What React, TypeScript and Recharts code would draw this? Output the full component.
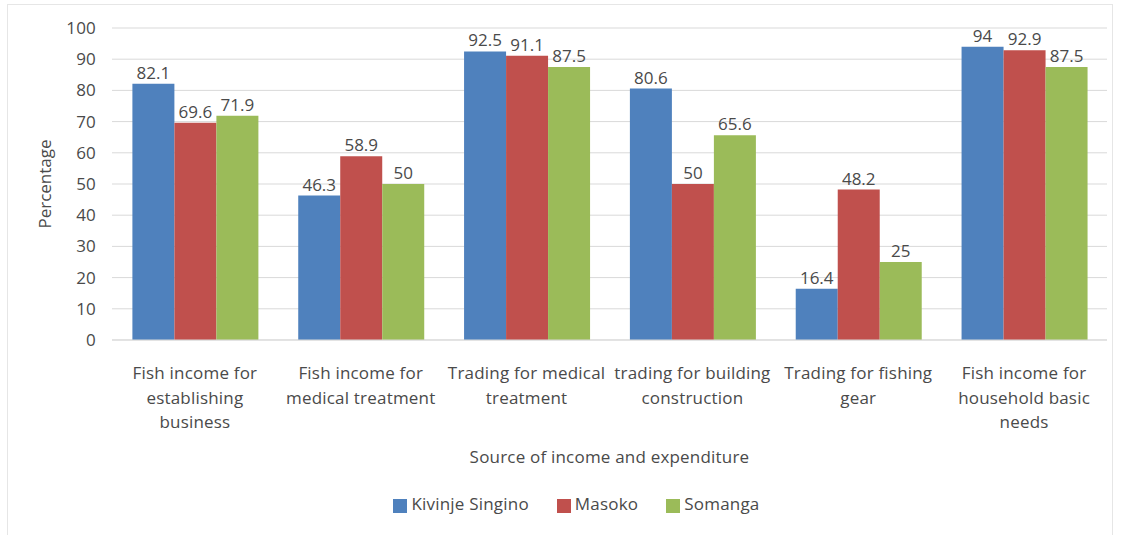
import { BarChart, Bar, XAxis, YAxis, CartesianGrid, Legend, LabelList, Label } from 'recharts';

const categories = [
  'Fish income for\nestablishing\nbusiness',
  'Fish income for\nmedical treatment',
  'Trading for medical\ntreatment',
  'trading for building\nconstruction',
  'Trading for fishing\ngear',
  'Fish income for\nhousehold basic\nneeds',
];
const kivinjeSingino = [82.1, 46.3, 92.5, 80.6, 16.4, 94];
const masoko = [69.6, 58.9, 91.1, 50, 48.2, 92.9];
const somanga = [71.9, 50, 87.5, 65.6, 25, 87.5];
const yTicks = [0, 10, 20, 30, 40, 50, 60, 70, 80, 90, 100];

const data = categories.map((name, i) => ({
  name,
  kivinje: kivinjeSingino[i],
  masoko: masoko[i],
  somanga: somanga[i],
}));

const FONT = '"Open Sans", sans-serif';
const TEXT = '#4a4a4a';
const FS = 17;
const LS = 0.2;

const CategoryTick = ({ x, y, payload }: any) => {
  const lines = String(payload.value).split('\n');
  return (
    <text x={x} y={y} textAnchor="middle" fill={TEXT} fontSize={FS} fontFamily={FONT} letterSpacing={LS}>
      {lines.map((line, i) => (
        <tspan key={i} x={x} dy={i === 0 ? 31 : 24.5}>
          {line}
        </tspan>
      ))}
    </text>
  );
};

export default function App() {
  return (
    <div style={{ position: 'absolute', left: 0, top: 0, width: 1121, height: 535, background: '#fff' }}>
      <div
        style={{
          position: 'absolute',
          left: 7,
          top: 4,
          width: 1106,
          height: 540,
          border: '1px solid #e6e6e6',
          boxSizing: 'border-box',
        }}
      />
      <BarChart
        width={1121}
        height={535}
        data={data}
        margin={{ top: 28, right: 14, left: 12, bottom: 13 }}
        barGap={0}
        barCategoryGap="12.3%"
        style={{ position: 'absolute', left: 0, top: 0, fontFamily: FONT }}
      >
        <CartesianGrid vertical={false} stroke="#d9d9d9" />
        <XAxis
          dataKey="name"
          height={152}
          interval={0}
          tickLine={false}
          axisLine={{ stroke: '#d9d9d9' }}
          tick={<CategoryTick />}
        >
          <Label
            value="Source of income and expenditure"
            position="insideBottom"
            offset={29}
            fill={TEXT}
            fontSize={FS}
            fontFamily={FONT}
            letterSpacing={LS}
          />
        </XAxis>
        <YAxis
          width={100}
          domain={[0, 100]}
          ticks={yTicks}
          axisLine={false}
          tickLine={false}
          tickMargin={10}
          tick={{ fill: TEXT, fontSize: FS, fontFamily: FONT, letterSpacing: LS }}
        >
          <Label
            value="Percentage"
            angle={-90}
            position="insideLeft"
            offset={33}
            fill={TEXT}
            fontSize={FS}
            fontFamily={FONT}
            style={{ textAnchor: 'middle' }}
          />
        </YAxis>
        <Legend
          verticalAlign="bottom"
          align="center"
          height={30}
          iconType="square"
          iconSize={14}
          formatter={(value: string) => (
            <span style={{ color: TEXT, fontSize: FS, fontFamily: FONT, letterSpacing: LS, paddingRight: 18 }}>
              {value}
            </span>
          )}
          wrapperStyle={{ paddingLeft: 31 }}
        />
        <Bar dataKey="kivinje" name="Kivinje Singino" fill="#4F81BD" isAnimationActive={false}>
          <LabelList dataKey="kivinje" position="top" offset={5} fill={TEXT} fontSize={FS} fontFamily={FONT} />
        </Bar>
        <Bar dataKey="masoko" name="Masoko" fill="#C0504D" isAnimationActive={false}>
          <LabelList dataKey="masoko" position="top" offset={5} fill={TEXT} fontSize={FS} fontFamily={FONT} />
        </Bar>
        <Bar dataKey="somanga" name="Somanga" fill="#9BBB59" isAnimationActive={false}>
          <LabelList dataKey="somanga" position="top" offset={5} fill={TEXT} fontSize={FS} fontFamily={FONT} />
        </Bar>
      </BarChart>
    </div>
  );
}
